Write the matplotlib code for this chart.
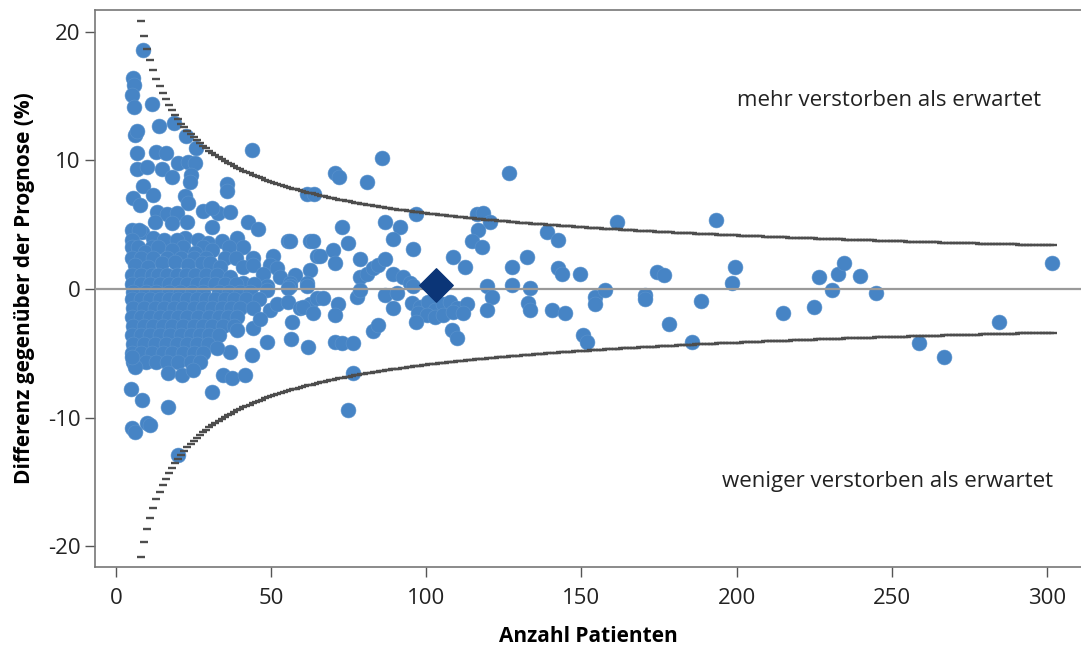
import matplotlib
matplotlib.use("Agg")
import matplotlib.pyplot as plt
import numpy as np

plt.rcParams['font.family'] = ['Open Sans', 'DejaVu Sans']
plt.rcParams['axes.unicode_minus'] = False

# --- data (Anzahl Patienten, Differenz %) ---
upper_left = [
    (8.6, 18.6), (5.5, 16.4), (5.7, 15.9), (5.1, 15.1), (5.8, 14.2), (11.7, 14.4),
    (18.7, 12.9), (13.8, 12.7), (6.1, 12.0), (6.8, 12.3), (22.6, 11.9), (25.8, 11.0),
    (43.7, 10.8), (6.7, 10.6), (12.9, 10.7), (16.0, 10.6), (6.7, 9.3), (9.9, 9.5),
    (14.7, 9.3), (18.0, 8.7), (20.0, 9.8), (23.2, 9.9), (25.5, 9.8), (24.0, 8.9),
    (23.8, 8.3), (35.7, 8.2), (35.7, 7.6), (8.7, 8.0), (11.8, 7.3), (5.5, 7.1),
    (7.7, 6.5), (22.2, 7.2), (23.2, 6.7), (13.1, 6.0), (28.0, 6.1), (32.9, 5.9),
    (36.7, 6.0), (16.4, 5.8), (19.6, 5.9), (31.0, 6.3), (12.6, 5.2), (18.0, 5.1),
    (22.9, 5.2), (30.8, 4.8), (42.5, 5.2), (45.8, 4.7), (8.4, 4.4), (11.9, 4.0),
    (22.2, 4.0), (26.4, 3.8), (29.6, 3.6), (34.0, 3.7), (39.0, 4.0), (41.0, 3.3),
    (55.4, 3.7), (56.0, 3.7), (50.6, 2.6), (57.7, 1.1), (49.6, 1.9), (61.5, 7.4),
    (63.8, 7.4), (62.5, 3.7), (64.8, 2.6),
]

blob_upper = [
    (5.0, 4.6), (7.5, 4.6),
    (5.2, 3.8), (15.5, 3.8), (19.5, 3.8),
    (5.0, 3.3), (7.0, 3.3), (11.5, 3.3), (21.5, 3.3), (28.0, 3.3), (36.5, 3.3),
    (9.3, 2.9), (13.5, 3.3), (18.0, 3.0), (25.5, 2.8), (31.0, 3.0),
    (5.0, 2.4), (8.0, 2.4), (12.0, 2.4), (16.5, 2.4), (21.0, 2.4), (25.0, 2.4),
    (29.0, 2.4), (35.0, 2.4), (38.5, 2.4), (44.0, 2.4),
    (6.1, 1.9), (10.3, 1.7), (14.8, 2.0), (19.0, 2.1), (23.2, 1.9), (27.7, 2.0),
    (30.3, 2.0), (33.5, 1.7), (41.0, 1.7), (44.2, 1.9), (47.4, 1.2), (51.9, 1.6),
    (5.0, 1.1), (8.0, 1.1), (11.5, 1.1), (13.5, 1.1), (16.5, 1.1), (19.5, 1.1),
    (22.5, 1.1), (25.5, 1.1), (29.0, 1.1), (32.5, 1.1), (36.7, 0.9), (52.9, 0.9),
    (62.5, 1.5), (61.5, 0.5), (56.0, 0.5), (41.0, 0.5), (48.7, 0.2),
    (5.0, 0.4), (8.0, 0.4), (11.0, 0.4), (14.0, 0.4), (17.0, 0.4), (20.0, 0.4),
    (23.0, 0.4), (26.0, 0.4), (29.0, 0.4), (32.0, 0.4), (35.0, 0.4), (38.5, 0.4),
    (44.5, 0.4), (56.0, 0.2), (61.5, 0.2), (55.4, 0.1),
    (5.5, -0.2), (9.5, -0.2), (13.0, -0.2), (17.0, -0.2), (20.5, -0.2), (24.5, -0.2),
    (28.0, -0.2), (33.0, -0.2), (36.5, -0.2), (40.0, -0.2), (43.0, -0.2), (48.7, -0.1),
]

blob_lower = [
    (5.0, -0.8), (8.0, -0.8), (11.0, -0.8), (14.0, -0.8), (17.0, -0.8), (20.0, -0.8),
    (23.0, -0.8), (26.0, -0.8), (29.0, -0.8), (32.0, -0.8), (35.0, -0.8), (38.0, -0.8),
    (42.0, -0.8), (46.0, -0.8),
    (5.5, -1.5), (9.0, -1.5), (12.5, -1.5), (15.5, -1.5), (18.5, -1.5), (21.5, -1.5),
    (25.0, -1.5), (28.0, -1.5), (31.0, -1.5), (34.0, -1.5), (37.0, -1.5), (40.0, -1.5),
    (44.0, -1.5),
    (5.0, -2.2), (8.0, -2.2), (11.0, -2.2), (14.0, -2.2), (17.0, -2.2), (20.0, -2.2),
    (23.0, -2.2), (26.5, -2.2), (30.0, -2.2), (33.0, -2.2), (36.0, -2.2), (39.0, -2.2),
    (5.5, -2.9), (9.0, -2.9), (12.0, -2.9), (15.0, -2.9), (18.0, -2.9), (21.5, -2.9),
    (25.0, -2.9), (28.0, -2.9), (31.0, -2.9), (34.5, -2.9), (38.0, -2.9),
    (5.0, -3.6), (8.0, -3.6), (11.0, -3.6), (14.0, -3.6), (17.5, -3.6), (21.0, -3.6),
    (24.0, -3.6), (27.0, -3.6), (30.0, -3.6), (33.0, -3.6),
    (5.5, -4.3), (9.0, -4.3), (12.5, -4.3), (16.0, -4.3), (19.5, -4.3), (23.0, -4.3),
    (26.0, -4.3), (29.5, -4.3),
    (5.0, -5.0), (8.0, -5.0), (11.5, -5.0), (15.0, -5.0), (18.0, -5.0), (21.5, -5.0),
    (25.0, -5.0), (28.0, -5.0),
    (5.5, -5.7), (9.5, -5.7), (13.0, -5.7), (16.5, -5.7), (20.0, -5.7), (24.0, -5.7),
    (27.0, -5.7),
    (49.6, -1.6), (51.9, -1.2), (55.4, -1.0), (59.3, -1.5), (62.5, -1.2), (64.8, -0.7),
    (60.3, -1.4), (63.5, -1.9), (66.7, -0.7), (44.2, -3.0), (39.0, -3.2), (46.4, -2.3),
    (56.7, -2.6), (56.3, -3.9), (61.7, -4.5), (48.7, -4.1), (43.8, -5.1), (36.7, -4.9),
    (32.6, -4.6), (34.5, -6.7), (37.4, -6.9), (41.6, -6.7), (30.9, -8.0),
    (6.1, -6.1), (16.8, -6.5), (21.3, -6.7), (24.8, -6.3), (5.2, -5.3), (4.8, -7.8),
    (8.4, -8.6), (16.8, -9.2), (5.2, -10.8), (10.0, -10.4), (6.1, -11.1), (11.0, -10.6),
    (19.8, -12.9),
]

middle = [
    (85.8, 10.2), (70.6, 9.0), (71.9, 8.7), (80.8, 8.3), (126.7, 9.0), (96.7, 5.8),
    (116.3, 5.8), (118.3, 5.9), (120.5, 5.2), (161.5, 5.2), (72.8, 4.8), (86.7, 5.2),
    (91.5, 4.8), (89.3, 3.9), (116.7, 4.6), (114.7, 3.7), (118.0, 3.3), (139.0, 4.4),
    (142.4, 3.8), (63.5, 3.7), (74.8, 3.6), (95.7, 3.1), (65.7, 2.6), (70.0, 3.0),
    (70.6, 2.0), (78.6, 2.3), (108.6, 2.5), (112.5, 1.7), (127.6, 1.7), (132.5, 2.5),
    (142.4, 1.6), (143.7, 1.2), (149.5, 1.2), (78.6, 0.9), (80.9, 1.2), (82.8, 1.6),
    (84.4, 1.9), (86.7, 2.3), (89.3, 1.2), (92.5, 0.9), (94.7, 0.5), (77.7, -0.6),
    (78.6, -0.1), (86.7, -0.5), (90.5, -0.3), (95.7, 0.2), (71.5, -1.2), (70.6, -2.0),
    (89.3, -1.5), (95.4, -1.1), (98.0, -1.4), (100.5, -1.0), (102.8, -1.6), (105.4, -1.2),
    (107.6, -1.0), (109.9, -1.5), (113.1, -1.2), (97.3, -1.9), (100.2, -2.0), (102.8, -2.2),
    (105.4, -2.0), (108.6, -1.8), (111.8, -1.9), (96.7, -2.6), (119.6, 0.2), (121.2, -0.6),
    (119.6, -1.6), (127.6, 0.3), (133.4, 0.1), (132.8, -1.1), (133.4, -1.6), (140.5, -1.6),
    (144.7, -1.9), (154.4, -0.6), (157.6, -0.1), (154.4, -1.2), (150.5, -3.6), (151.8, -4.1),
    (70.6, -4.1), (72.8, -4.2), (76.4, -4.2), (82.8, -3.3), (84.4, -2.8), (108.3, -3.2),
    (109.9, -3.8), (76.4, -6.5), (74.8, -9.4),
]

right = [
    (193.4, 5.4), (174.4, 1.3), (176.6, 1.1), (199.5, 1.7), (198.5, 0.5), (170.5, -0.5),
    (170.5, -0.8), (188.5, -0.9), (178.2, -2.7), (185.6, -4.1), (215.0, -1.9),
    (225.0, -1.4), (226.6, 0.9), (230.7, -0.1), (232.7, 1.2), (234.6, 2.0), (239.8, 1.0),
    (245.0, -0.3), (258.8, -4.2), (266.8, -5.3), (284.6, -2.6), (301.6, 2.0),
]

overall = (103.0, 0.3)          # Gesamtwert (Raute)
funnel_n = np.arange(8, 303)    # Kontrollgrenzen an ganzzahligen Fallzahlen
funnel_k = 59.0                 # Grenze = k / sqrt(n)

x_ticks = [0, 50, 100, 150, 200, 250, 300]
y_ticks = [-20, -10, 0, 10, 20]

# --- plot ---
fig = plt.figure(figsize=(10.81, 6.49), dpi=100)
ax = fig.add_axes([0.0879, 0.1263, 0.9121, 0.8583])

pts = np.array(upper_left + blob_upper + blob_lower + middle + right)
ax.scatter(pts[:, 0], pts[:, 1], s=115, color='#4684C5', edgecolors='#5b93cd',
           linewidths=0.4, zorder=2)

limit = funnel_k / np.sqrt(funnel_n)
ax.axhline(0, color='#9a9a9a', lw=1.6, zorder=3)
ax.plot(funnel_n, limit, ls='none', marker='_', ms=6, mew=1.7, color='#4d4d4d', zorder=3)
ax.plot(funnel_n, -limit, ls='none', marker='_', ms=6, mew=1.7, color='#4d4d4d', zorder=3)

ax.scatter([overall[0]], [overall[1]], marker='D', s=290, color='#0B3577', zorder=4)

ax.text(200.1, 14.7, 'mehr verstorben als erwartet', fontsize=16, color='#222222',
        ha='left', va='center')
ax.text(195.3, -15.0, 'weniger verstorben als erwartet', fontsize=16, color='#222222',
        ha='left', va='center')

ax.set_xlim(-6.8, 311)
ax.set_ylim(-21.63, 21.71)
ax.set_xticks(x_ticks)
ax.set_yticks(y_ticks)
ax.tick_params(direction='out', length=7, width=1, color='#555555', labelsize=16,
               labelcolor='#222222')
ax.tick_params(axis='x', pad=8)

for side in ['left', 'bottom', 'top']:
    ax.spines[side].set_color('#777777')
    ax.spines[side].set_linewidth(1.2)
ax.spines['right'].set_visible(False)

ax.set_xlabel('Anzahl Patienten', fontsize=15, fontweight='bold', labelpad=12)
ax.set_ylabel('Differenz gegenüber der Prognose (%)', fontsize=15, fontweight='bold',
              labelpad=9)

fig.savefig('out.png', dpi=100)
